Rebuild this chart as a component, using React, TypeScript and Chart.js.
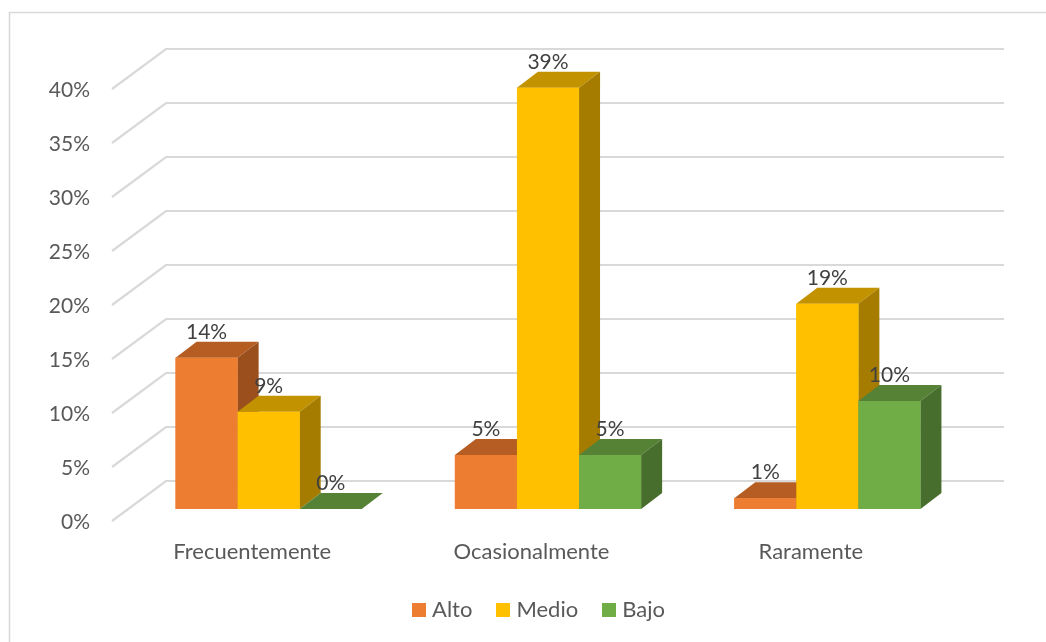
import React, { useEffect, useRef } from "react";
import { Chart, registerables } from "chart.js";

Chart.register(...registerables);

const categories = ["Frecuentemente", "Ocasionalmente", "Raramente"];
const alto = [14, 5, 1];
const medio = [9, 39, 19];
const bajo = [0, 5, 10];
const tickStep = 5;
const yMax = 40;
const FONT = "Lato, sans-serif";
const FONT_SIZE = 21;
const WIDE_FONT_SIZE = 22;

const faces: Record<string, { front: string; top: string; side: string }> = {
  Alto: { front: "#ED7D31", top: "#B55D23", side: "#9A4F1D" },
  Medio: { front: "#FFC000", top: "#C29200", side: "#A67C00" },
  Bajo: { front: "#70AD47", top: "#568235", side: "#476E2C" },
};

const DX = 21;
const DY = 16;

const poly = (ctx: CanvasRenderingContext2D, pts: number[][], color: string) => {
  ctx.fillStyle = color;
  ctx.beginPath();
  pts.forEach((p, i) => (i ? ctx.lineTo(p[0], p[1]) : ctx.moveTo(p[0], p[1])));
  ctx.closePath();
  ctx.fill();
};

const swatch = (color: string) => {
  const c = document.createElement("canvas");
  c.width = 14;
  c.height = 14;
  const g = c.getContext("2d") as CanvasRenderingContext2D;
  g.fillStyle = color;
  g.fillRect(0, 0, 14, 14);
  return c;
};

const layoutPlugin = {
  id: "labelRoom",
  afterLayout(chart: any) {
    const y = chart.scales.y;
    y.left = 0;
    y.width = y.right;
    chart.legend.left += 3;
    chart.legend.right += 3;
  },
};

const wallPlugin = {
  id: "wall",
  beforeDatasetsDraw(chart: any) {
    const { ctx, scales } = chart;
    const y = scales.y;
    const left = chart.chartArea.left;
    ctx.save();
    ctx.strokeStyle = "#D9D9D9";
    ctx.lineWidth = 2.2;
    for (const t of y.ticks) {
      const py = y.getPixelForValue(t.value);
      ctx.beginPath();
      ctx.moveTo(left - 17, py + 12);
      ctx.lineTo(left + 37, py - 28);
      ctx.lineTo(chart.chartArea.right + 37, py - 28);
      ctx.stroke();
    }
    ctx.restore();
  },
};

const barsPlugin = {
  id: "bars3d",
  afterDatasetsDraw(chart: any) {
    const { ctx } = chart;
    ctx.save();
    chart.data.datasets.forEach((ds: any, di: number) => {
      const f = faces[ds.label];
      chart.getDatasetMeta(di).data.forEach((b: any) => {
        const l = b.x - b.width / 2;
        const r = b.x + b.width / 2;
        const t = b.y;
        const base = b.base;
        poly(ctx, [[l, t], [l + DX, t - DY], [r + DX, t - DY], [r, t]], f.top);
        poly(ctx, [[r, t], [r + DX, t - DY], [r + DX, base - DY], [r, base]], f.side);
        poly(ctx, [[l, t], [r, t], [r, base], [l, base]], f.front);
      });
    });
    ctx.fillStyle = "#404040";
    ctx.font = `${FONT_SIZE}px ${FONT}`;
    ctx.textAlign = "center";
    ctx.textBaseline = "middle";
    chart.data.datasets.forEach((ds: any, di: number) => {
      chart.getDatasetMeta(di).data.forEach((b: any, i: number) => {
        ctx.fillText(`${ds.data[i]}%`, b.x, b.y - 26);
      });
    });
    ctx.restore();
  },
};

const framePlugin = {
  id: "frame",
  beforeDraw(chart: any) {
    const { ctx } = chart;
    ctx.save();
    ctx.fillStyle = "#FFFFFF";
    ctx.fillRect(0, 0, chart.width, chart.height);
    ctx.strokeStyle = "#D9D9D9";
    ctx.lineWidth = 1.6;
    ctx.beginPath();
    ctx.moveTo(9.5, 642);
    ctx.lineTo(9.5, 12.5);
    ctx.lineTo(1046, 12.5);
    ctx.stroke();
    ctx.restore();
  },
};

export default function App() {
  const ref = useRef<HTMLCanvasElement>(null);
  useEffect(() => {
    const chart = new Chart(ref.current as HTMLCanvasElement, {
      type: "bar",
      data: {
        labels: categories,
        datasets: [
          { label: "Alto", data: alto, backgroundColor: faces.Alto.front },
          { label: "Medio", data: medio, backgroundColor: faces.Medio.front },
          { label: "Bajo", data: bajo, backgroundColor: faces.Bajo.front },
        ],
      },
      options: {
        animation: false,
        responsive: false,
        layout: { padding: { left: 109, right: 79, top: 77, bottom: 11 } },
        datasets: { bar: { categoryPercentage: 2 / 3, barPercentage: 1 } },
        plugins: {
          tooltip: { enabled: false },
          legend: {
            position: "bottom",
            labels: {
              usePointStyle: true,
              pointStyleWidth: 4,
              padding: 29,
              color: "#595959",
              font: { family: FONT, size: WIDE_FONT_SIZE },
              generateLabels: (c: any) =>
                Chart.defaults.plugins.legend.labels
                  .generateLabels(c)
                  .map((it: any) => ({ ...it, pointStyle: swatch(it.fillStyle) })),
            },
          },
        },
        scales: {
          x: {
            afterFit: (s: any) => { s.height = 61; },
            grid: { display: false },
            border: { display: false },
            ticks: {
              color: "#595959",
              font: { family: FONT, size: WIDE_FONT_SIZE },
              maxRotation: 0,
              padding: 22,
              labelOffset: -16.5,
            },
          },
          y: {
            min: 0,
            max: yMax,
            afterFit: (s: any) => { s.width = 20; },
            grid: { display: false, drawTicks: false },
            border: { display: false },
            ticks: {
              stepSize: tickStep,
              color: "#595959",
              font: { family: FONT, size: FONT_SIZE },
              padding: 39,
              labelOffset: 13,
              callback: (v: any) => `${v}%`,
            },
          },
        },
      },
      plugins: [framePlugin, layoutPlugin, wallPlugin, barsPlugin],
    } as any);
    return () => chart.destroy();
  }, []);
  return (
    <div style={{ position: "fixed", left: 0, top: 0, width: 1046, height: 642, background: "#fff" }}>
      <canvas ref={ref} width={1046} height={642} style={{ display: "block" }} />
    </div>
  );
}
